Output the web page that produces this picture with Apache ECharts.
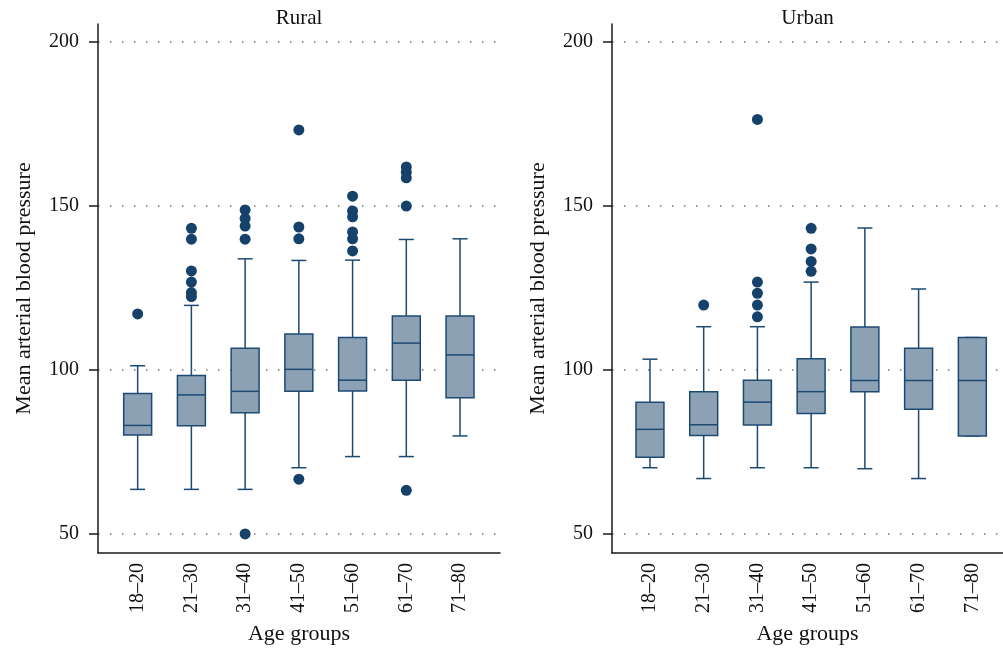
<!DOCTYPE html>
<html><head><meta charset="utf-8">
<script src="https://cdn.jsdelivr.net/npm/echarts@6/dist/echarts.min.js"></script>
<style>html,body{margin:0;padding:0;background:#fff}#c{width:1003px;height:650px}</style>
</head><body><div id="c"></div>
<script>
const categories = ['18–20','21–30','31–40','41–50','51–60','61–70','71–80'];
const yTicks = [50, 100, 150, 200];
// each box: [low whisker, Q1, median, Q3, high whisker]
const ruralBoxes = [
  [63.6, 80.2, 83.1, 92.8, 101.3],
  [63.6, 83.0, 92.4, 98.3, 119.7],
  [63.6, 87.0, 93.5, 106.6, 133.9],
  [70.2, 93.5, 100.2, 111.0, 133.4],
  [73.6, 93.6, 96.9, 109.9, 133.5],
  [73.6, 96.9, 108.2, 116.5, 139.8],
  [79.9, 91.5, 104.6, 116.5, 140.0]
];
const ruralOutliers = [
  ['18–20', 117.1],
  ['21–30', 143.2], ['21–30', 139.9], ['21–30', 130.2], ['21–30', 126.8], ['21–30', 123.6], ['21–30', 122.4],
  ['31–40', 148.8], ['31–40', 146.2], ['31–40', 143.9], ['31–40', 139.9], ['31–40', 50.0],
  ['41–50', 173.2], ['41–50', 143.6], ['41–50', 140.0], ['41–50', 66.7],
  ['51–60', 153.0], ['51–60', 148.5], ['51–60', 146.7], ['51–60', 142.1], ['51–60', 140.0], ['51–60', 136.3],
  ['61–70', 161.9], ['61–70', 160.3], ['61–70', 158.6], ['61–70', 150.0], ['61–70', 63.3]
];
const urbanBoxes = [
  [70.2, 73.4, 81.9, 90.2, 103.3],
  [66.9, 80.0, 83.3, 93.4, 113.2],
  [70.2, 83.2, 90.2, 96.9, 113.2],
  [70.2, 86.7, 93.4, 103.4, 126.8],
  [69.9, 93.4, 96.8, 113.1, 143.3],
  [66.9, 88.0, 96.8, 106.6, 124.7],
  [79.9, 79.9, 96.8, 109.9, 109.9]
];
const urbanOutliers = [
  ['21–30', 119.8],
  ['31–40', 176.4], ['31–40', 126.8], ['31–40', 123.4], ['31–40', 119.8], ['31–40', 116.2],
  ['41–50', 143.2], ['41–50', 136.9], ['41–50', 133.1], ['41–50', 130.1]
];
const panelTitles = ['Rural', 'Urban'];

const STROKE = '#1c4a73';
const FILL = '#8da1b5';
const DOT = '#15416a';
const FONT = 'Liberation Serif';
const Y_MIN = 44.2, Y_MAX = 205.5;

function renderBox(params, api) {
  const x = api.value(0);
  const lo = api.coord([x, api.value(1)]);
  const q1 = api.coord([x, api.value(2)]);
  const md = api.coord([x, api.value(3)]);
  const q3 = api.coord([x, api.value(4)]);
  const hi = api.coord([x, api.value(5)]);
  const band = api.size([1, 0])[0];
  const bw = band * 0.52, cw = band * 0.28;
  const cx = lo[0];
  const st = { stroke: STROKE, lineWidth: 1.5 };
  return {
    type: 'group',
    children: [
      { type: 'line', shape: { x1: cx, y1: hi[1], x2: cx, y2: q3[1] }, style: st },
      { type: 'line', shape: { x1: cx, y1: q1[1], x2: cx, y2: lo[1] }, style: st },
      { type: 'line', shape: { x1: cx - cw / 2, y1: hi[1], x2: cx + cw / 2, y2: hi[1] }, style: st },
      { type: 'line', shape: { x1: cx - cw / 2, y1: lo[1], x2: cx + cw / 2, y2: lo[1] }, style: st },
      { type: 'rect', shape: { x: cx - bw / 2, y: q3[1], width: bw, height: q1[1] - q3[1] },
        style: { fill: FILL, stroke: STROKE, lineWidth: 1.5 } },
      { type: 'line', shape: { x1: cx - bw / 2, y1: md[1], x2: cx + bw / 2, y2: md[1] }, style: st }
    ]
  };
}

const frames = [
  { left: 98, width: 402 },
  { left: 612, width: 391 }
];
const dataGrids = [
  { left: 110.8, width: 376.1 },
  { left: 623.1, width: 376.1 }
];

const grid = [], xAxis = [], yAxis = [], series = [];
const textBase = { fontFamily: FONT, color: '#111' };

[0, 1].forEach(p => {
  const fg = grid.length;
  grid.push({ left: frames[p].left, width: frames[p].width, top: 24, height: 529 });
  const dg = grid.length;
  grid.push({ left: dataGrids[p].left, width: dataGrids[p].width, top: 24, height: 529 });

  // frame axes
  xAxis.push({
    gridIndex: fg, type: 'value', min: 0, max: 1,
    axisLine: { show: true, lineStyle: { color: '#1a1a1a', width: 1.5 } },
    axisTick: { show: false }, axisLabel: { show: false }, splitLine: { show: false },
    name: 'Age groups', nameLocation: 'middle', nameGap: 70,
    nameTextStyle: { ...textBase, fontSize: 22 }
  });
  xAxis.push({
    gridIndex: fg, type: 'value', min: 0, max: 1, position: 'top',
    axisLine: { show: false }, axisTick: { show: false }, axisLabel: { show: false }, splitLine: { show: false },
    name: panelTitles[p], nameLocation: 'middle', nameGap: -5,
    nameTextStyle: { ...textBase, fontSize: 21 }
  });
  yAxis.push({
    gridIndex: fg, type: 'value', min: Y_MIN, max: Y_MAX,
    axisLine: { show: true, lineStyle: { color: '#1a1a1a', width: 1.5 } },
    axisTick: { show: true, length: 9, customValues: yTicks, lineStyle: { color: '#1a1a1a', width: 1.5 } },
    axisLabel: { show: true, customValues: yTicks, margin: 19, ...textBase, fontSize: 20 },
    splitLine: { show: true, lineStyle: { color: '#7a7a7a', width: 1.5, type: [1.5, 10.5] } },
    name: 'Mean arterial blood pressure', nameLocation: 'middle', nameGap: 63,
    nameTextStyle: { ...textBase, fontSize: 22 }
  });

  // data axes
  const dx = xAxis.length;
  xAxis.push({
    gridIndex: dg, type: 'category', data: categories, boundaryGap: true,
    axisLine: { show: false }, axisTick: { show: false }, splitLine: { show: false },
    axisLabel: { rotate: 90, margin: 10, interval: 0, ...textBase, fontSize: 20 }
  });
  const dy = yAxis.length;
  yAxis.push({ gridIndex: dg, type: 'value', min: Y_MIN, max: Y_MAX, show: false, splitLine: { show: false } });

  const boxes = p === 0 ? ruralBoxes : urbanBoxes;
  const outs = p === 0 ? ruralOutliers : urbanOutliers;
  series.push({
    type: 'custom', xAxisIndex: dx, yAxisIndex: dy,
    renderItem: renderBox,
    encode: { x: 0, y: [1, 2, 3, 4, 5] },
    data: boxes.map((b, i) => [i].concat(b)),
    z: 2
  });
  series.push({
    type: 'scatter', xAxisIndex: dx, yAxisIndex: dy,
    symbol: 'circle', symbolSize: 11,
    itemStyle: { color: DOT, opacity: 1 },
    data: outs, z: 3
  });
});

const chart = echarts.init(document.getElementById('c'), null, { renderer: 'canvas' });
chart.setOption({ animation: false, backgroundColor: '#ffffff', grid, xAxis, yAxis, series });
</script>
</body></html>
